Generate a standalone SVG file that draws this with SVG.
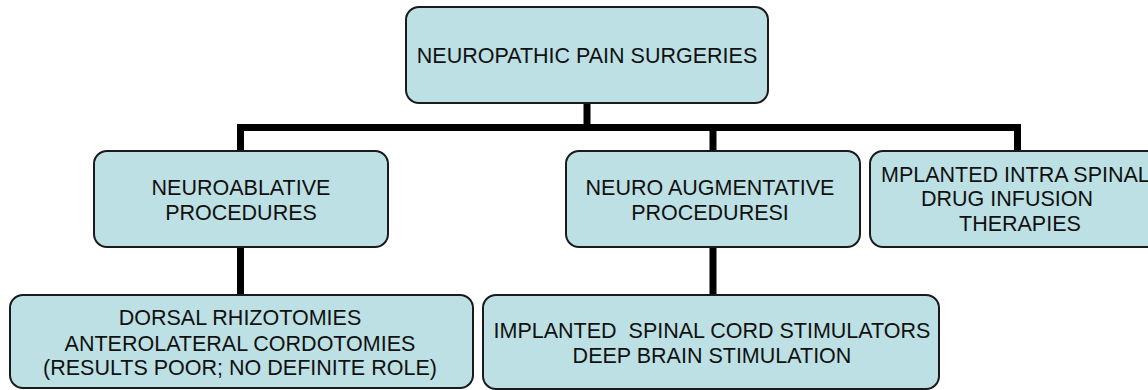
<svg xmlns="http://www.w3.org/2000/svg" width="1148" height="390" viewBox="0 0 1148 390">
<style>
.box{fill:#bce0e3;stroke:#1a1a1a;stroke-width:2}
.t{font-family:"Liberation Sans",Arial,sans-serif;font-size:21.5px;fill:#111;text-anchor:middle}
.ts{font-family:"Liberation Sans",Arial,sans-serif;font-size:21.5px;fill:#111}
.c{stroke:#000;stroke-width:7;fill:none;stroke-linecap:butt}
</style>
<rect width="1148" height="390" fill="#fff"/>
<g id="connectors">
<path class="c" d="M587,103 V127.5"/>
<path class="c" d="M237,127.5 H1021"/>
<path class="c" d="M240.5,127.5 V151"/>
<path class="c" d="M713,127.5 V151"/>
<path class="c" d="M1017.5,127.5 V151"/>
<path class="c" d="M240.5,247 V295"/>
<path class="c" d="M713,247 V295"/>
</g>
<g id="root">
<rect class="box" x="406" y="7" width="362" height="96" rx="13"/>
<text class="t" x="587" y="63">NEUROPATHIC PAIN SURGERIES</text>
</g>
<g id="neuroablative">
<rect class="box" x="94" y="151" width="294" height="96" rx="13"/>
<text class="t" x="241" y="195">NEUROABLATIVE</text>
<text class="t" x="241" y="220">PROCEDURES</text>
</g>
<g id="neuroaugmentative">
<rect class="box" x="566" y="151" width="294" height="96" rx="13"/>
<text class="t" x="710" y="195">NEURO AUGMENTATIVE</text>
<text class="t" x="710" y="220">PROCEDURESI</text>
</g>
<g id="intraspinal">
<rect class="box" x="870" y="151" width="300" height="96" rx="13"/>
<text class="ts" x="881" y="182">MPLANTED INTRA SPINAL</text>
<text class="ts" x="921" y="206">DRUG INFUSION</text>
<text class="ts" x="959" y="231">THERAPIES</text>
</g>
<g id="ablative-list">
<rect class="box" x="10" y="295" width="463" height="93" rx="13"/>
<text class="t" x="240" y="325">DORSAL RHIZOTOMIES</text>
<text class="t" x="240" y="351">ANTEROLATERAL CORDOTOMIES</text>
<text class="t" x="240" y="375">(RESULTS POOR; NO DEFINITE ROLE)</text>
</g>
<g id="augmentative-list">
<rect class="box" x="483" y="295" width="456" height="94" rx="13"/>
<text class="t" x="712" y="338" xml:space="preserve">IMPLANTED  SPINAL CORD STIMULATORS</text>
<text class="t" x="712" y="363">DEEP BRAIN STIMULATION</text>
</g>
</svg>
